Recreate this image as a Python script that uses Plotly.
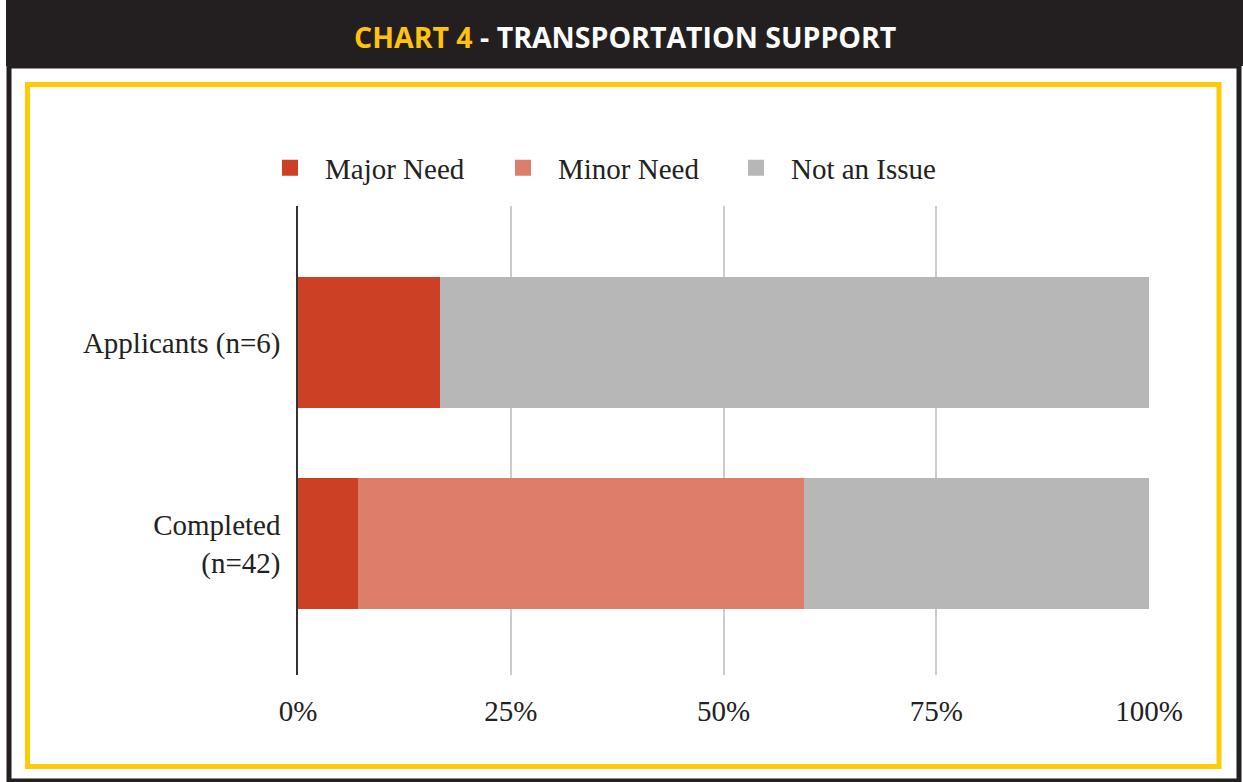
import plotly.graph_objects as go

# Chart 4 - transportation support, share of responses per group (percent)
groups = ['Completed<br>(n=42)', 'Applicants (n=6)']
major_need = [7.1, 16.7]
minor_need = [52.4, 0.0]
not_an_issue = [40.5, 83.3]
x_ticks = [0, 25, 50, 75, 100]
x_tick_labels = ['0%', '25%', '50%', '75%', '100%']
series_names = ['Major Need', 'Minor Need', 'Not an Issue']
series_colors = ['#cc4125', '#dd7e6b', '#b7b7b7']

W, H = 1243, 782
# plot area edges in pixels
PL, PR, PT, PB = 298, 1149, 206, 675


def px(x):
    return (x - PL) / (PR - PL)


def py(y):
    return (PB - y) / (PB - PT)


serif = 'Liberation Serif, Times New Roman, serif'

fig = go.Figure()
for name, vals, col in zip(series_names, [major_need, minor_need, not_an_issue], series_colors):
    fig.add_trace(go.Bar(name=name, y=groups, x=vals, orientation='h', showlegend=False,
                         marker=dict(color=col, line=dict(width=0))))
    # legend-only entry so the swatch can be a bigger square
    fig.add_trace(go.Scatter(name=name, x=[None], y=[None], mode='markers',
                             marker=dict(symbol='square', size=26, color=col)))

# frame: black header, dark outer border, yellow inner box
shapes = [
    dict(type='rect', xref='paper', yref='paper', x0=px(6), x1=px(1243), y0=py(66), y1=py(0),
         fillcolor='#231f20', line=dict(width=0)),
    dict(type='rect', xref='paper', yref='paper', x0=px(9), x1=px(1239), y0=py(66), y1=py(781),
         line=dict(color='#231f20', width=5)),
    dict(type='rect', xref='paper', yref='paper', x0=px(27.5), x1=px(1219), y0=py(84.5), y1=py(766.5),
         line=dict(color='#ffcb05', width=5)),
]

title_text = ("<span style='color:#ffc20e'>CHART 4</span>"
              "<span style='color:#ffffff'> - TRANSPORTATION SUPPORT</span>")

fig.update_layout(
    width=W, height=H,
    margin=dict(l=PL, r=W - PR, t=PT, b=H - PB),
    paper_bgcolor='white', plot_bgcolor='white',
    barmode='stack', bargap=0.35,
    shapes=shapes,
    annotations=[dict(text=title_text, xref='paper', yref='paper', x=px(625), y=py(37),
                      xanchor='center', yanchor='middle', showarrow=False,
                      font=dict(family='Open Sans, sans-serif', size=28.5, weight=700))],
    legend=dict(orientation='h', x=px(255), y=py(168), xanchor='left', yanchor='middle',
                font=dict(family=serif, size=29, color='#222222'), traceorder='normal',
                itemsizing='trace', itemwidth=60, entrywidth=158, entrywidthmode='pixels'),
    font=dict(family=serif, size=29, color='#222222'),
    xaxis=dict(range=[0, 100], tickvals=x_ticks, ticktext=x_tick_labels,
               showgrid=True, gridcolor='#cccccc', gridwidth=1.5, zeroline=False,
               ticks='outside', ticklen=0, ticklabelstandoff=10,
               tickfont=dict(family=serif, size=29, color='#222222')),
    yaxis=dict(range=[-0.654, 1.679], showgrid=False, zeroline=False,
               showline=True, linecolor='#333333', linewidth=1.5,
               ticks='outside', ticklen=0, ticklabelstandoff=10,
               tickfont=dict(family=serif, size=29, color='#222222')),
    showlegend=True,
)

# drop the page's default body margin so the figure sits at the window corner
fig.write_html('out.html', config={'displayModeBar': False},
               post_script="document.body.style.margin='0';")
